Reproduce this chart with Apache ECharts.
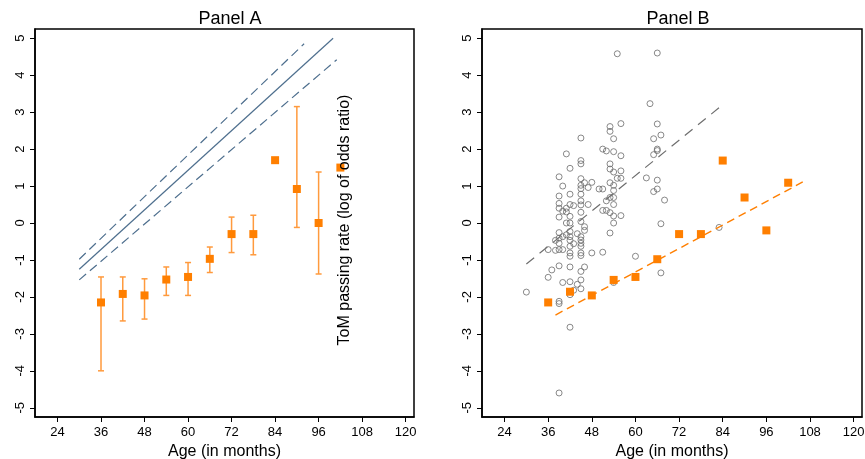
<!DOCTYPE html>
<html>
<head>
<meta charset="utf-8">
<script src="https://cdn.jsdelivr.net/npm/echarts@6/dist/echarts.min.js"></script>
<style>
  html, body { margin: 0; padding: 0; background: #fff; }
  #main { width: 865px; height: 459px; }
</style>
</head>
<body>
<div id="main"></div>
<script>
// 年龄组 (月)
const ages = [36, 42, 48, 54, 60, 66, 72, 78, 84, 90, 96, 102];

// Panel A: 均值 + 置信区间
const panelAMeans = [-2.15, -1.92, -1.96, -1.53, -1.46, -0.97, -0.30, -0.30, 1.70, 0.92, 0.00, 1.50];
const panelALow = [-4.0, -2.65, -2.6, -1.96, -1.96, -1.34, -0.8, -0.86, null, -0.12, -1.38, null];
const panelAHigh = [-1.46, -1.46, -1.51, -1.19, -1.07, -0.65, 0.16, 0.21, null, 3.15, 1.38, null];

// 拟合线 (起点, 终点)
const fitLine = [[30, -1.25], [100, 5.0]];
const fitUpper = [[30, -0.98], [92, 4.85]];
const fitLower = [[30, -1.54], [101, 4.42]];

// Panel B
const panelBMeans = [-2.15, -1.86, -1.96, -1.54, -1.46, -0.98, -0.30, -0.30, 1.69, 0.69, -0.20, 1.09];
const orangeTrend = [[38, -2.49], [106, 1.11]];
const grayTrend = [[30, -1.11], [83, 3.12]];

const circleAges = [
  55, 66, 64, 56, 53, 53, 54, 66, 67, 65, 45, 41, 45, 45, 42, 39, 40, 45, 45, 46,
  48, 47, 45, 45, 42, 39, 39, 39, 40, 41, 41, 42, 43, 42, 39, 45, 45, 47, 45, 45,
  41, 42, 46, 50, 51, 51, 52, 54, 56, 53, 53, 54, 56, 55, 56, 53, 54, 54, 53, 54,
  52, 54, 51, 52, 53, 54, 56, 54, 63, 65, 66, 66, 66, 66, 65, 68, 67, 83,
  30, 36, 37, 39, 36, 38, 39, 40, 38, 39, 39, 40, 39, 41, 42, 42, 42, 42, 42, 42,
  43, 44, 45, 45, 45, 45, 45, 45, 46, 48, 51, 53, 40, 42, 42, 44, 45, 45, 46, 45,
  43, 42, 39, 39, 42, 39, 54, 60, 67
];
const circleScores = [
  4.58, 4.6, 3.23, 2.69, 2.61, 2.48, 2.28, 2.68, 2.38, 2.28, 2.3, 1.87, 1.69, 1.6, 1.48, 1.25, 1.0, 1.2, 1.02, 1.09,
  1.1, 0.96, 0.93, 0.78, 0.78, 0.73, 0.53, 0.4, 0.32, 0.4, 0.3, 0.5, 0.47, 0.18, 0.16, 0.6, 0.49, 0.5, 0.29, 0.04,
  0.0, 0.0, -0.1, 0.92, 0.92, 2.0, 1.95, 1.93, 1.82, 1.6, 1.46, 1.38, 1.41, 1.21, 1.21, 1.09, 1.02, 0.88, 0.69, 0.69,
  0.6, 0.5, 0.34, 0.34, 0.28, 0.19, 0.2, 0.0, 1.22, 1.85, 1.96, 2.0, 1.16, 0.92, 0.85, 0.62, -0.02, -0.12,
  -1.87, -1.47, -1.27, -1.16, -0.72, -0.74, -0.72, -0.72, -0.47, -0.55, -0.41, -0.37, -0.26, -0.32, -0.23, -0.37, -0.47, -0.63, -0.81, -0.9,
  -0.56, -0.29, -0.37, -0.46, -0.55, -0.63, -0.81, -0.88, -0.2, -0.81, -0.79, -0.27, -1.61, -1.59, -1.19, -1.66, -1.31, -1.54, -1.19, -1.78,
  -1.82, -1.94, -2.12, -2.18, -2.82, -4.6, -1.61, -0.9, -1.35
];

const xTicks = [24, 36, 48, 60, 72, 84, 96, 108, 120];
const yTicks = [-5, -4, -3, -2, -1, 0, 1, 2, 3, 4, 5];

const FONT = 'Liberation Sans';
const ORANGE = '#ff7f00';
const BLUE = '#4e6f8e';

let chart = echarts.init(document.getElementById('main'), null, {renderer: 'canvas'});

function makeX(gridIndex) {
  return {
    type: 'value', gridIndex: gridIndex, min: 17.8, max: 122.3,
    name: 'Age (in months)', nameLocation: 'middle', nameGap: 25,
    nameTextStyle: {fontFamily: FONT, fontSize: 16, color: '#000'},
    splitLine: {show: false},
    axisLine: {show: true, onZero: false, lineStyle: {color: '#000', width: 1.5}},
    axisTick: {show: true, length: 5, customValues: xTicks, lineStyle: {color: '#000'}},
    axisLabel: {customValues: xTicks, fontFamily: FONT, fontSize: 13, color: '#000', margin: 9}
  };
}
function makeY(gridIndex) {
  return {
    type: 'value', gridIndex: gridIndex, min: -5.25, max: 5.25,
    splitLine: {show: false},
    axisLine: {show: true, onZero: false, lineStyle: {color: '#000', width: 1.5}},
    axisTick: {show: true, length: 5, customValues: yTicks, lineStyle: {color: '#000'}},
    axisLabel: {customValues: yTicks, rotate: 90, fontFamily: FONT, fontSize: 13, color: '#000', margin: 8}
  };
}
function seg(pts) {
  return pts.map(p => [p[0], p[1]]);
}

// 误差线
const errData = ages.map((a, i) => [a, panelALow[i], panelAHigh[i]])
  .filter(d => d[1] !== null);

let option = {
  animation: false,
  backgroundColor: '#fff',
  title: [
    {text: 'Panel A', left: 225, top: 5, textAlign: 'center',
      textStyle: {fontFamily: FONT, fontSize: 18, fontWeight: 'normal', color: '#000'}},
    {text: 'Panel B', left: 673, top: 5, textAlign: 'center',
      textStyle: {fontFamily: FONT, fontSize: 18, fontWeight: 'normal', color: '#000'}}
  ],
  grid: [
    {left: 35, top: 29, width: 379, height: 388, show: true, borderColor: '#000', borderWidth: 1.5,
      containLabel: false, outerBoundsMode: 'none'},
    {left: 482, top: 29, width: 380, height: 388, show: true, borderColor: '#000', borderWidth: 1.5,
      containLabel: false, outerBoundsMode: 'none'}
  ],
  xAxis: [makeX(0), makeX(1)],
  yAxis: [makeY(0), makeY(1)],
  series: [
    {type: 'line', xAxisIndex: 0, yAxisIndex: 0, data: seg(fitLine), symbol: 'none',
      lineStyle: {color: BLUE, width: 1.2}},
    {type: 'line', xAxisIndex: 0, yAxisIndex: 0, data: seg(fitUpper), symbol: 'none',
      lineStyle: {color: BLUE, width: 1.2, type: [9, 5]}},
    {type: 'line', xAxisIndex: 0, yAxisIndex: 0, data: seg(fitLower), symbol: 'none',
      lineStyle: {color: BLUE, width: 1.2, type: [9, 5]}},
    {
      type: 'custom', xAxisIndex: 0, yAxisIndex: 0, data: errData,
      renderItem: (params, api) => {
        let x = api.value(0);
        let lo = api.coord([x, api.value(1)]);
        let hi = api.coord([x, api.value(2)]);
        let w = 3;
        let style = {stroke: '#ff9a3d', lineWidth: 1.5};
        return {
          type: 'group',
          children: [
            {type: 'line', shape: {x1: lo[0], y1: lo[1], x2: hi[0], y2: hi[1]}, style: style},
            {type: 'line', shape: {x1: lo[0] - w, y1: lo[1], x2: lo[0] + w, y2: lo[1]}, style: style},
            {type: 'line', shape: {x1: hi[0] - w, y1: hi[1], x2: hi[0] + w, y2: hi[1]}, style: style}
          ]
        };
      }
    },
    {type: 'scatter', xAxisIndex: 0, yAxisIndex: 0, symbol: 'rect', symbolSize: 8,
      itemStyle: {color: ORANGE, opacity: 1},
      data: ages.map((a, i) => [a, panelAMeans[i]])},

    {type: 'scatter', xAxisIndex: 1, yAxisIndex: 1, symbol: 'circle', symbolSize: 6,
      itemStyle: {color: 'rgba(0,0,0,0)', borderColor: '#6b6b6b', borderWidth: 1},
      data: circleAges.map((a, i) => [a, circleScores[i]])},
    {type: 'line', xAxisIndex: 1, yAxisIndex: 1, data: seg(grayTrend), symbol: 'none',
      lineStyle: {color: '#6e6e6e', width: 1.2, type: [10, 7]}},
    {type: 'line', xAxisIndex: 1, yAxisIndex: 1, data: seg(orangeTrend), symbol: 'none',
      lineStyle: {color: ORANGE, width: 1.4, type: [8, 5]}},
    {type: 'scatter', xAxisIndex: 1, yAxisIndex: 1, symbol: 'rect', symbolSize: 8,
      itemStyle: {color: ORANGE, opacity: 1},
      data: ages.map((a, i) => [a, panelBMeans[i]])}
  ],
  graphic: [{
    type: 'text', x: 345, y: 220, rotation: Math.PI / 2, z: 100,
    style: {text: 'ToM passing rate (log of odds ratio)', fontFamily: FONT, fontSize: 16,
      fill: '#000', align: 'center', verticalAlign: 'middle'}
  }]
};
chart.setOption(option);
</script>
</body>
</html>
